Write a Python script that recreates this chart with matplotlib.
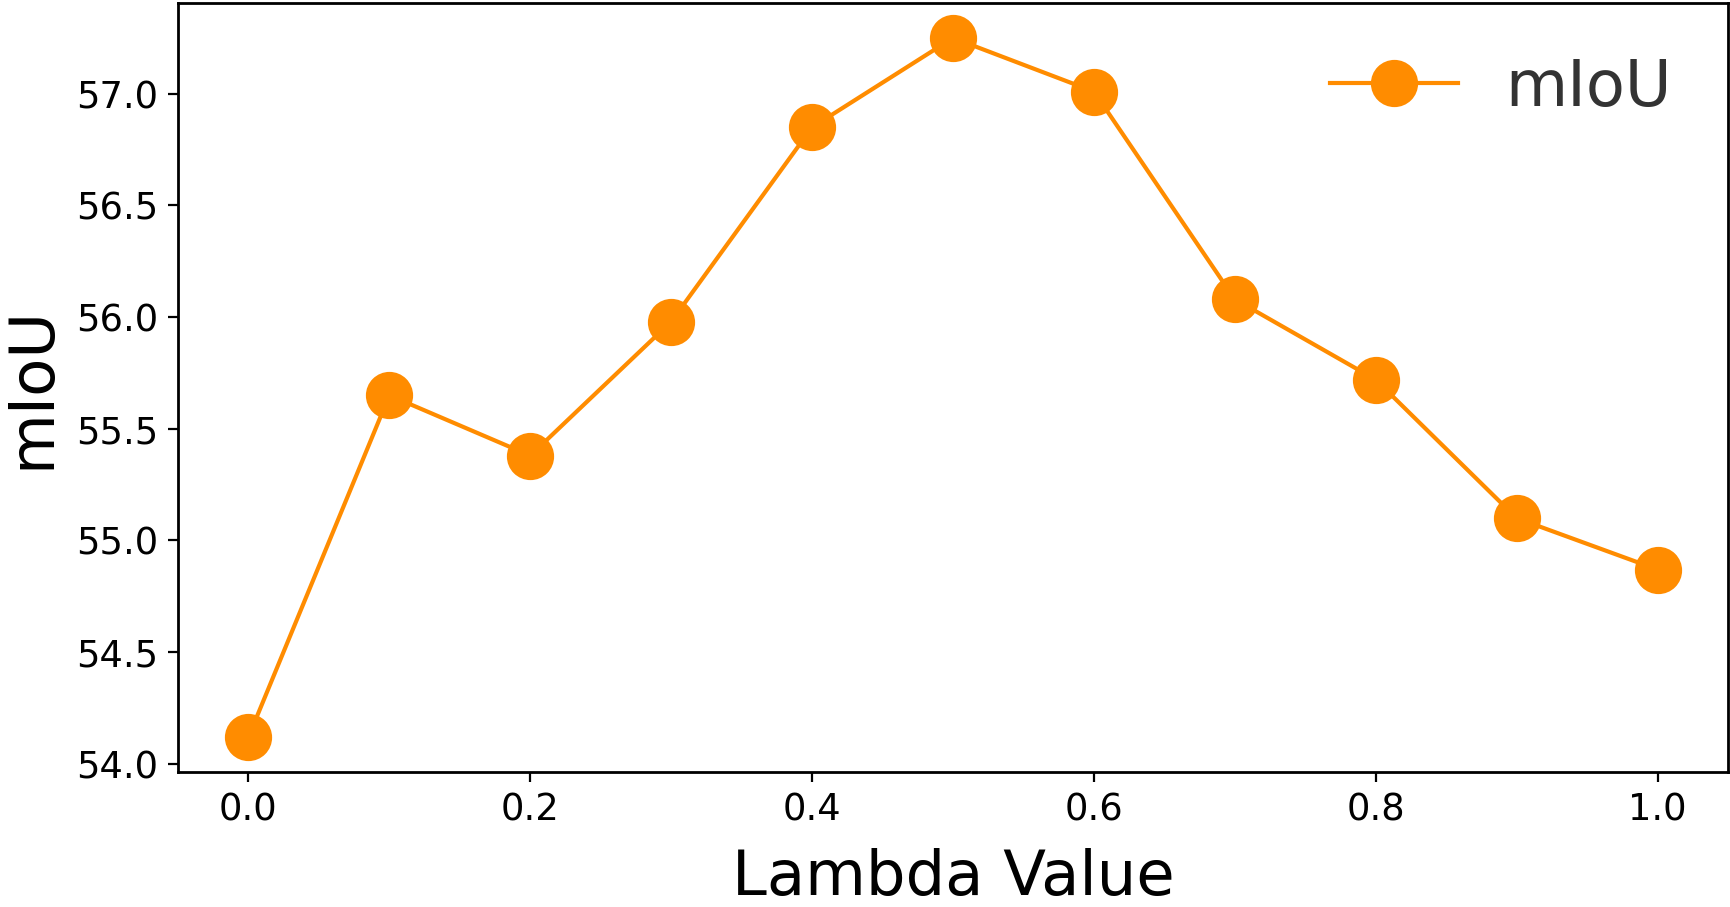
import matplotlib
matplotlib.use("Agg")
import matplotlib.pyplot as plt

lambda_values = [0.0, 0.1, 0.2, 0.3, 0.4, 0.5, 0.6, 0.7, 0.8, 0.9, 1.0]
miou = [54.12, 55.65, 55.38, 55.98, 56.85, 57.25, 57.01, 56.08, 55.72, 55.10, 54.87]
x_label = "Lambda Value"
y_label = "mIoU"
series_label = "mIoU"

fig = plt.figure(figsize=(1730 / 200, 907 / 200), dpi=200)
ax = fig.add_axes([178 / 1730, 1 - 772 / 907, (1728 - 178) / 1730, (772 - 3) / 907])

ax.plot(lambda_values, miou, color="#FF8C00", marker="o", markersize=16,
        linewidth=1.5, label=series_label)

ax.set_xlabel(x_label, fontsize=22.5, labelpad=7)
ax.set_ylabel(y_label, fontsize=22.5, labelpad=5)
ax.set_xticks([0.0, 0.2, 0.4, 0.6, 0.8, 1.0])
ax.set_yticks([54.0, 54.5, 55.0, 55.5, 56.0, 56.5, 57.0])
ax.tick_params(labelsize=13.3)
for s in ax.spines.values():
    s.set_linewidth(1.0)

ax.legend(loc="upper right", bbox_to_anchor=(1.001, 1.005), fontsize=23,
          frameon=False, labelcolor="#333333", handletextpad=0.75)

fig.savefig("out.png", dpi=200)
